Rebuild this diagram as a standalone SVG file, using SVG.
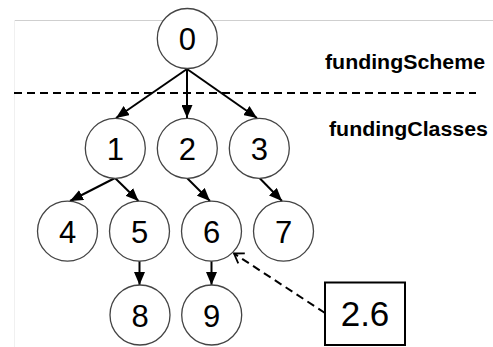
<svg xmlns="http://www.w3.org/2000/svg" width="493" height="347" viewBox="0 0 493 347">
  <style>
    .node circle { fill: #ffffff; stroke: #444444; stroke-width: 1.3; }
    .node text { font-family: "Liberation Sans", Arial, sans-serif; font-size: 31px; fill: #000000; text-anchor: middle; }
    .edge { stroke: #000000; stroke-width: 2; fill: none; marker-end: url(#arrow); }
    .label { font-family: "Liberation Sans", Arial, sans-serif; font-size: 19.5px; font-weight: bold; fill: #000000; }
    .frame { stroke: #cfcfcf; stroke-width: 1; fill: none; }
  </style>
  <defs>
    <marker id="arrow" markerUnits="userSpaceOnUse" markerWidth="13" markerHeight="11" refX="13" refY="5.5" orient="auto">
      <path d="M0,0 L13,5.5 L0,11 z" fill="#000000"/>
    </marker>
    <marker id="open" markerUnits="userSpaceOnUse" markerWidth="14" markerHeight="14" refX="11" refY="7" orient="auto">
      <path d="M2,1 L11,7 L2,13" fill="none" stroke="#000000" stroke-width="1.8"/>
    </marker>
  </defs>

  <rect width="493" height="347" fill="#ffffff"/>

  <!-- page frame -->
  <line class="frame" x1="14" y1="20.5" x2="493" y2="20.5"/>
  <line x1="14.5" y1="20" x2="14.5" y2="347" stroke="#f0f0f0" stroke-width="1"/>

  <!-- level separator -->
  <line x1="14" y1="93" x2="476" y2="93" stroke="#000000" stroke-width="2" stroke-dasharray="8,5"/>

  <text class="label" x="325" y="69" textLength="160" lengthAdjust="spacingAndGlyphs">fundingScheme</text>
  <text class="label" x="329" y="136" textLength="159" lengthAdjust="spacingAndGlyphs">fundingClasses</text>

  <g id="connectors">
    <line class="edge" x1="187" y1="69" x2="116" y2="118"/>
    <line class="edge" x1="187" y1="69" x2="187" y2="118"/>
    <line class="edge" x1="187" y1="69" x2="257" y2="118"/>
    <line class="edge" x1="115" y1="178" x2="70" y2="201"/>
    <line class="edge" x1="115" y1="178" x2="138.5" y2="201"/>
    <line class="edge" x1="187" y1="178" x2="210" y2="201"/>
    <line class="edge" x1="259.5" y1="178" x2="282" y2="201"/>
    <line class="edge" x1="139.5" y1="261" x2="139.5" y2="285"/>
    <line class="edge" x1="211.5" y1="261" x2="211.5" y2="285"/>
    <line x1="325" y1="313" x2="234" y2="253.5" stroke="#000000" stroke-width="2" stroke-dasharray="8,5" marker-end="url(#open)"/>
  </g>

  <g id="n0" class="node"><circle cx="187.3" cy="38.5" r="30"/><text x="187.3" y="50">0</text></g>
  <g id="n1" class="node"><circle cx="115.3" cy="148.3" r="30"/><text x="115.3" y="159.8">1</text></g>
  <g id="n2" class="node"><circle cx="187.3" cy="148.3" r="30"/><text x="187.3" y="159.8">2</text></g>
  <g id="n3" class="node"><circle cx="259.3" cy="148.3" r="30"/><text x="259.3" y="159.8">3</text></g>
  <g id="n4" class="node"><circle cx="67.5" cy="231.2" r="30"/><text x="67.5" y="242.7">4</text></g>
  <g id="n5" class="node"><circle cx="139.5" cy="231.2" r="30"/><text x="139.5" y="242.7">5</text></g>
  <g id="n6" class="node"><circle cx="211.5" cy="231.2" r="30"/><text x="211.5" y="242.7">6</text></g>
  <g id="n7" class="node"><circle cx="283.5" cy="231.2" r="30"/><text x="283.5" y="242.7">7</text></g>
  <g id="n8" class="node"><circle cx="140" cy="315" r="30"/><text x="140" y="326.5">8</text></g>
  <g id="n9" class="node"><circle cx="211.7" cy="315" r="30"/><text x="211.7" y="326.5">9</text></g>

  <g id="note">
    <rect x="325" y="282.5" width="80" height="62.5" fill="#ffffff" stroke="#000000" stroke-width="2"/>
    <text x="365" y="326" font-family="Liberation Sans, Arial, sans-serif" font-size="35" text-anchor="middle">2.6</text>
  </g>
</svg>
